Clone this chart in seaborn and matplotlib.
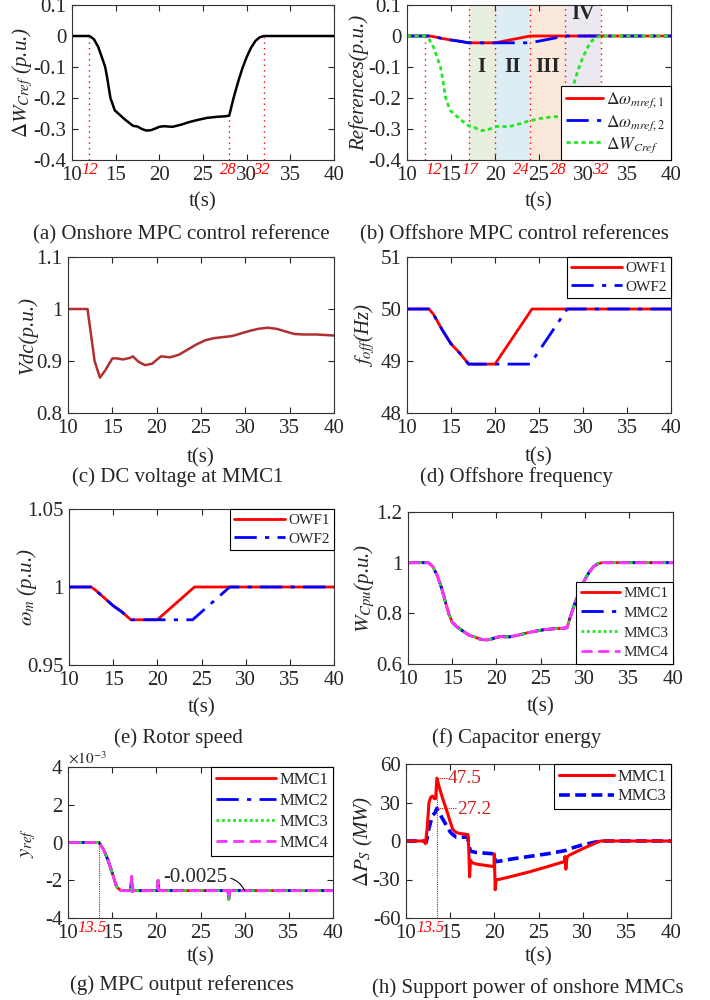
import numpy as np
import pandas as pd
import matplotlib
matplotlib.use("Agg")
import matplotlib.pyplot as plt
import seaborn as sns
from matplotlib.ticker import FuncFormatter

# ---------------- data ----------------
t_w = [10, 12, 12.5, 13, 13.5, 13.8, 14, 14.4, 14.9, 15.5, 16, 17, 17.5, 18, 18.5, 19, 19.5, 20,
       20.5, 21.5, 22.5, 23.5, 24.5, 25.5, 26.5, 27.5, 28, 28.5, 29, 29.5, 30, 30.5, 31, 31.5, 32, 40]
dW_cref = [0, 0, -0.01, -0.035, -0.075, -0.1, -0.13, -0.2, -0.24, -0.255, -0.268, -0.29, -0.292, -0.3,
           -0.305, -0.304, -0.299, -0.293, -0.291, -0.293, -0.286, -0.277, -0.27, -0.264, -0.261, -0.259,
           -0.257, -0.2, -0.15, -0.105, -0.068, -0.038, -0.016, -0.004, 0, 0]

t_om1 = [10, 12.5, 13, 14, 15, 16, 17, 20, 24, 40]
d_om1 = [0, 0, -0.002, -0.008, -0.013, -0.017, -0.022, -0.022, 0, 0]
t_om2 = [10, 12.5, 13, 14, 15, 16, 17, 24, 28, 40]
d_om2 = [0, 0, -0.002, -0.008, -0.013, -0.017, -0.022, -0.022, 0, 0]

region_edges = [17, 20, 24, 28, 32]
region_names = ["I", "II", "III", "IV"]
region_colors = ["#e9efdf", "#dcedf3", "#fae8da", "#ebe8f0"]

t_vdc = [10, 12.2, 12.6, 13, 13.6, 14.2, 15, 15.5, 16.2, 17, 17.3, 18, 18.7, 19.5, 20.2, 20.5, 21.5,
         22.5, 23.5, 24.5, 25.5, 26.5, 27.5, 28.5, 29.5, 30.5, 31.5, 32.5, 33.5, 34.5, 35.5, 36.5, 38, 39, 40]
vdc = [1.0, 1.0, 0.95, 0.9, 0.868, 0.882, 0.905, 0.905, 0.903, 0.906, 0.909, 0.898, 0.892, 0.895,
       0.905, 0.909, 0.907, 0.912, 0.922, 0.932, 0.94, 0.944, 0.946, 0.948, 0.953, 0.958, 0.962,
       0.964, 0.962, 0.957, 0.952, 0.951, 0.951, 0.95, 0.949]

t_f1 = [10, 12.5, 13, 14, 15, 16, 17, 20, 24.2, 40]
f_owf1 = [50, 50, 49.9, 49.6, 49.33, 49.15, 48.94, 48.94, 50, 50]
t_f2 = [10, 12.5, 13, 14, 15, 16, 17, 24, 28.2, 40]
f_owf2 = [50, 50, 49.9, 49.6, 49.33, 49.15, 48.94, 48.94, 50, 50]

t_wm1 = [10, 12.5, 13, 14, 15, 16, 17, 20, 24.2, 40]
wm_owf1 = [1, 1, 0.998, 0.993, 0.988, 0.984, 0.979, 0.979, 1, 1]
t_wm2 = [10, 12.5, 13, 14, 15, 16, 17, 24, 28.2, 40]
wm_owf2 = [1, 1, 0.998, 0.993, 0.988, 0.984, 0.979, 0.979, 1, 1]

t_wc = [10, 12.3, 12.8, 13.3, 13.8, 14.2, 14.6, 15, 15.5, 16, 17, 17.5, 18, 18.5, 19, 19.5, 20, 20.5,
        21.5, 22.5, 23.5, 24.5, 25.5, 26.5, 27.5, 28, 28.5, 29, 29.5, 30, 30.5, 31, 31.5, 32, 40]
wc_mmc = [1, 1, 0.985, 0.95, 0.9, 0.85, 0.8, 0.765, 0.748, 0.735, 0.712, 0.708, 0.7, 0.696, 0.695,
          0.699, 0.705, 0.708, 0.707, 0.714, 0.723, 0.73, 0.736, 0.739, 0.741, 0.743, 0.8, 0.85,
          0.895, 0.932, 0.962, 0.984, 0.996, 1, 1]

t_y = [10, 13.5, 14, 14.5, 15, 15.5, 16, 17.1, 17.2, 17.3, 17.45, 20.1, 20.2, 20.3, 28.1, 28.2, 28.3, 40]
yref_e3 = [0, 0, -0.35, -0.9, -1.6, -2.35, -2.55, -2.55, -1.8, -2.6, -2.55, -2.55, -2.0, -2.55,
           -2.55, -3.0, -2.55, -2.55]

t_p1 = [10, 12, 12.2, 12.4, 12.6, 12.8, 13, 13.2, 13.35, 13.5, 13.8, 14.2, 14.6, 15, 15.3, 15.6, 16,
        16.5, 17, 17.1, 17.2, 17.3, 17.5, 18, 19, 19.95, 20.0, 20.1, 20.2, 20.5, 22, 24, 26, 27.95,
        28.0, 28.1, 28.2, 28.3, 28.5, 30, 32, 40]
dP_mmc1 = [0, 0, -2, 10, 30, 34, 35, 33, 33, 49, 41, 32, 24, 15, 9, 7, 6, 5.5, 5, -5, -28, -15, -17,
           -18, -19, -20, -10, -38, -30, -30, -27.5, -24, -20, -16, -12, -22, -14, -12, -11, -6, 0, 0]
t_p3 = [10, 12, 12.3, 12.6, 13, 13.3, 13.5, 14, 14.5, 15, 15.3, 15.7, 16, 17, 17.1, 17.3, 18, 20,
        20.1, 20.3, 22, 24, 26, 28, 29, 30, 31, 32, 40]
dP_mmc3 = [0, 0, -1, 10, 20, 22, 25.5, 19, 13, 7, 5, 3, 3, 3, -3, -8, -9, -10, -16, -16, -14, -12,
           -10, -7.5, -5, -3, -1.5, 0, 0]

# ---------------- style ----------------
sns.set_style("ticks")
plt.rcParams["font.family"] = ["Liberation Serif", "DejaVu Serif"]
plt.rcParams["mathtext.fontset"] = "stix"
plt.rcParams["axes.unicode_minus"] = False
plt.rcParams["xtick.direction"] = "in"
plt.rcParams["ytick.direction"] = "in"
plt.rcParams["xtick.top"] = True
plt.rcParams["ytick.right"] = True
plt.rcParams["xtick.major.size"] = 4
plt.rcParams["ytick.major.size"] = 4
plt.rcParams["axes.edgecolor"] = "#333333"
plt.rcParams["axes.linewidth"] = 0.8
plt.rcParams["xtick.labelsize"] = 15
plt.rcParams["ytick.labelsize"] = 15
plt.rcParams["text.color"] = "#262626"

RED = "#ff0000"
BLUE = "#0000ff"
GREEN = "#22e622"
MAG = "#ff33ff"
DASHDOT = (0, (8, 3, 1.5, 3))

W, H = 710, 1000
fig = plt.figure(figsize=(7.1, 10), dpi=100)


def add_ax(l, r, t, b):
    return fig.add_axes([l / W, 1 - b / H, (r - l) / W, (b - t) / H])


def line(ax, t, v, **kw):
    sns.lineplot(x=t, y=v, ax=ax, estimator=None, sort=False, legend=False, **kw)


def finish(ax, ylim, yticks, ylabel, ylx, xly, caption, cap_xy):
    ax.set_xlim(10, 40)
    ax.set_xticks([10, 15, 20, 25, 30, 35, 40])
    ax.set_ylim(*ylim)
    ax.set_yticks(yticks)
    ax.yaxis.set_major_formatter(FuncFormatter(lambda v, p: f"{v:g}"))
    ax.set_ylabel(ylabel, fontsize=15, style="italic")
    ax.yaxis.label.set_va("center")
    ax.yaxis.set_label_coords(ylx, 0.5)
    ax.set_xlabel("t(s)", fontsize=15)
    ax.xaxis.label.set_va("center")
    ax.xaxis.set_label_coords(0.5, xly)
    ax.tick_params(colors="#262626", pad=4)
    fig.text(cap_xy[0] / W, 1 - cap_xy[1] / H, caption, ha="center", va="center", fontsize=15)


def leg(ax, loc, anchor, fs=11, hl=3.3, sp=0.3, handles=None, labels=None):
    if handles is None:
        handles, labels = ax.get_legend_handles_labels()
    lg = ax.legend(handles, labels, loc=loc, bbox_to_anchor=anchor, borderaxespad=0, fontsize=fs,
                   handlelength=hl, labelspacing=sp, frameon=True, fancybox=False,
                   edgecolor="black", borderpad=0.3, handletextpad=0.2)
    lg.get_frame().set_linewidth(0.8)
    lg.get_frame().set_alpha(1)
    return lg


def red_tag(ax, x, txt, ha="center", fs=12):
    ax.text(x, -0.015, txt, transform=ax.get_xaxis_transform(), ha=ha, va="top",
            color=RED, fontsize=fs, style="italic")


# (a) onshore MPC control reference
ax = add_ax(72, 334, 5, 160)
line(ax, t_w, dW_cref, color="black", linewidth=1.8)
ax.vlines([12, 28, 32], -0.4, [0, -0.257, 0], colors=RED, linestyles=(0, (1, 3)), linewidth=1)
red_tag(ax, 12.0, "12")
red_tag(ax, 27.9, "28")
red_tag(ax, 31.7, "32")
finish(ax, (-0.4, 0.1), [-0.4, -0.3, -0.2, -0.1, 0, 0.1], r"$\Delta W_{Cref}$ (p.u.)", -0.19, -0.27,
       "(a) Onshore MPC control reference", (181, 235))

# (b) offshore MPC control references
ax = add_ax(407, 671, 5, 160)
for i in range(4):
    ax.axvspan(region_edges[i], region_edges[i + 1], color=region_colors[i], zorder=0, lw=0)
    ymid = 0.07 if region_names[i] == "IV" else -0.1
    ax.text((region_edges[i] + region_edges[i + 1]) / 2, ymid, region_names[i], ha="center",
            va="center", fontsize=15, fontweight="bold", color="#262626")
ax.vlines([12], -0.4, 0, colors=RED, linestyles=(0, (1, 3)), linewidth=1)
ax.vlines(region_edges, -0.4, 0.1, colors=RED, linestyles=(0, (1, 3)), linewidth=1)
line(ax, t_om1, d_om1, color=RED, linewidth=2, label=r"$\Delta\omega_{mref,1}$")
line(ax, t_om2, d_om2, color=BLUE, linewidth=2, linestyle=DASHDOT, label=r"$\Delta\omega_{mref,2}$")
line(ax, t_w, dW_cref, color=GREEN, linewidth=2, linestyle=(0, (1.5, 1.2)), label=r"$\Delta W_{Cref}$")
red_tag(ax, 12.1, "12", ha="left")
red_tag(ax, 17.1, "17")
red_tag(ax, 24.0, "24", ha="right")
red_tag(ax, 28.1, "28", ha="right")
red_tag(ax, 32.0, "32")
leg(ax, "lower right", (1, 0), fs=12.5, hl=2.1, sp=0.15)
finish(ax, (-0.4, 0.1), [-0.4, -0.3, -0.2, -0.1, 0, 0.1], "References(p.u.)", -0.18, -0.27,
       "(b) Offshore MPC control references", (514, 235))

# (c) DC voltage
ax = add_ax(68, 334, 257, 413)
line(ax, t_vdc, vdc, color="#b03030", linewidth=1.8)
finish(ax, (0.8, 1.1), [0.8, 0.9, 1.0, 1.1], "Vdc(p.u.)", -0.15, -0.29,
       "(c) DC voltage at MMC1", (178, 477))

# (d) offshore frequency
ax = add_ax(407, 671, 257, 413)
line(ax, t_f1, f_owf1, color=RED, linewidth=2, label="OWF1")
line(ax, t_f2, f_owf2, color=BLUE, linewidth=2, linestyle=DASHDOT, label="OWF2")
leg(ax, "upper right", (1, 1))
finish(ax, (48, 51), [48, 49, 50, 51], r"$f_{off}$(Hz)", -0.16, -0.28,
       "(d) Offshore frequency", (516, 477))

# (e) rotor speed
ax = add_ax(69, 334, 509, 665)
line(ax, t_wm1, wm_owf1, color=RED, linewidth=2, label="OWF1")
line(ax, t_wm2, wm_owf2, color=BLUE, linewidth=2, linestyle=DASHDOT, label="OWF2")
leg(ax, "upper right", (1, 1))
finish(ax, (0.95, 1.05), [0.95, 1.0, 1.05], r"$\omega_m$ (p.u.)", -0.16, -0.276,
       "(e) Rotor speed", (178, 738))

# (f) capacitor energy
ax = add_ax(408, 673, 512, 664)
line(ax, t_wc, wc_mmc, color=RED, linewidth=2, label="MMC1")
line(ax, t_wc, wc_mmc, color=BLUE, linewidth=2, linestyle=DASHDOT, label="MMC2")
line(ax, t_wc, wc_mmc, color=GREEN, linewidth=2, linestyle=(0, (1, 1)), label="MMC3")
line(ax, t_wc, wc_mmc, color=MAG, linewidth=2, linestyle=(0, (4, 2)), label="MMC4")
leg(ax, "lower right", (1, 0), hl=2.6, sp=0.4)
finish(ax, (0.6, 1.2), [0.6, 0.8, 1.0, 1.2], r"$W_{Cpu}$(p.u.)", -0.165, -0.285,
       "(f) Capacitor energy", (517, 738))

# (g) MPC output references
ax = add_ax(68, 333, 767, 918)
line(ax, t_y, yref_e3, color=RED, linewidth=2, label="MMC1")
line(ax, t_y, yref_e3, color=BLUE, linewidth=2, linestyle=DASHDOT, label="MMC2")
line(ax, t_y, yref_e3, color=GREEN, linewidth=2, linestyle=(0, (1, 1)), label="MMC3")
line(ax, t_y, yref_e3, color=MAG, linewidth=2, linestyle=(0, (4, 2)), label="MMC4")
ax.vlines([13.5], -4, 0, colors=RED, linestyles=(0, (1, 1)), linewidth=0.8)
red_tag(ax, 12.7, "13.5")
ax.annotate("-0.0025", xy=(30, -2.55), xytext=(20.8, -1.85), fontsize=15, ha="left", va="center",
            arrowprops=dict(arrowstyle="-", color="black", lw=0.8, shrinkA=0, shrinkB=0,
                            connectionstyle="arc3,rad=-0.25", relpos=(1, 0.5)))
ax.text(0, 1.0, r"$\times10^{-3}$", transform=ax.transAxes, ha="left", va="bottom", fontsize=11)
leg(ax, "upper right", (1, 1), fs=12, hl=3.6, sp=0.3)
finish(ax, (-4, 4), [-4, -2, 0, 2, 4], r"$y_{ref}$", -0.15, -0.26,
       "(g) MPC output references", (182, 985))

# (h) support power of onshore MMCs
ax = add_ax(406, 671, 764, 918)
line(ax, t_p3, dP_mmc3, color=BLUE, linewidth=2.6, linestyle=(0, (3, 1.5)), label="MMC3")
line(ax, t_p1, dP_mmc1, color=RED, linewidth=2.2, label="MMC1")
ax.vlines([13.5], -60, 49, colors=RED, linestyles=(0, (1, 1)), linewidth=0.8)
ax.hlines([49, 25.5], 13.5, [14.6, 15.7], colors=RED, linestyles=(0, (1, 1)), linewidth=0.8)
ax.text(14.7, 49, "47.5", color="#cc2222", fontsize=14, va="center", ha="left")
ax.text(15.8, 24.5, "27.2", color="#cc2222", fontsize=14, va="center", ha="left")
red_tag(ax, 12.8, "13.5", fs=11.5)
h, l = ax.get_legend_handles_labels()
leg(ax, "upper right", (1, 1), fs=12, sp=0.2, handles=h[::-1], labels=l[::-1])
finish(ax, (-60, 60), [-60, -30, 0, 30, 60], r"$\Delta P_S$ (MW)", -0.16, -0.253,
       "(h) Support power of onshore MMCs", (528, 988))

fig.savefig("out.png", dpi=100)
